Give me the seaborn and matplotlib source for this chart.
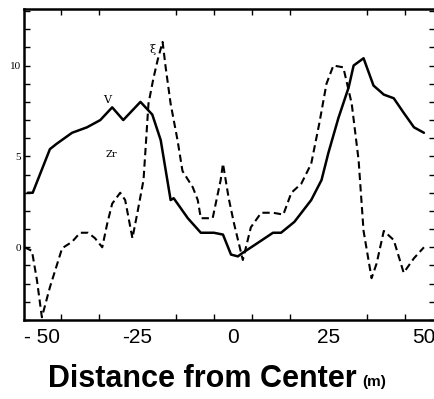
import numpy as np
import pandas as pd
import matplotlib
matplotlib.use('Agg')
import matplotlib.pyplot as plt
import seaborn as sns

# solid curve (Zr)
zr_x = [-53.7, -52.4, -47.9, -46.1, -42.1, -38.2, -34.7, -31.6, -28.7, -24.2,
        -21.1, -18.9, -16.3, -15.5, -11.8, -8.4, -5.0, -2.6, -0.5, 1.3,
        2.6, 5.5, 10.5, 12.6, 16.1, 20.5, 23.2, 25.0, 27.6, 30.3,
        31.6, 34.2, 36.8, 39.5, 42.1, 44.7, 47.4, 50.0]
zr_y = [3.0, 3.0, 5.4, 5.7, 6.3, 6.6, 7.0, 7.7, 7.0, 8.0,
        7.3, 5.9, 2.6, 2.7, 1.6, 0.8, 0.8, 0.7, -0.4, -0.5,
        -0.3, 0.1, 0.8, 0.8, 1.4, 2.6, 3.7, 5.2, 7.1, 8.8,
        10.0, 10.4, 8.9, 8.4, 8.2, 7.4, 6.6, 6.3]

# dashed curve (xi)
xi_x = [-54.5, -52.6, -51.3, -50.0, -47.9, -44.7, -42.1, -40.0, -37.9, -36.1,
        -34.2, -32.9, -31.6, -29.5, -28.2, -26.3, -25.0, -23.4, -22.9, -22.1,
        -20.8, -19.7, -18.4, -17.6, -16.3, -14.5, -13.2, -10.5, -9.2, -8.4,
        -5.3, -3.2, -2.6, -1.1, 0.3, 2.6, 4.7, 7.4, 10.5, 13.2,
        15.3, 17.9, 20.5, 22.6, 24.5, 26.3, 28.9, 31.1, 32.9, 34.2,
        36.3, 37.6, 39.5, 42.1, 44.7, 47.4, 50.0]
xi_y = [0.0, -0.2, -1.8, -3.85, -2.2, -0.05, 0.3, 0.8, 0.8, 0.5,
        0.0, 1.3, 2.4, 3.0, 2.6, 0.5, 1.9, 3.7, 5.3, 7.9,
        9.3, 10.3, 11.3, 9.9, 7.9, 5.9, 4.2, 3.3, 2.6, 1.6,
        1.6, 3.7, 4.6, 2.7, 1.3, -0.7, 1.1, 1.9, 1.9, 1.8,
        3.0, 3.5, 4.6, 6.8, 9.0, 10.0, 9.9, 7.9, 4.8, 0.9,
        -1.7, -0.9, 0.9, 0.4, -1.4, -0.6, 0.0]

x_ticks = [-50, -25, 0, 25, 50]
x_labels = ['- 50', '-25', '0', '25', '50']
y_ticks = [0, 5, 10]
y_labels = ['0', '5', '10']

sns.set_style('white')
plt.rcParams['text.color'] = 'black'
plt.rcParams['xtick.color'] = 'black'
plt.rcParams['ytick.color'] = 'black'

fig = plt.figure(figsize=(4.35, 3.99), dpi=100)
ax = fig.add_axes([0.055, 0.198, 0.945, 0.779])

sns.lineplot(x=zr_x, y=zr_y, ax=ax, color='black', linewidth=1.8,
             estimator=None, sort=False)
sns.lineplot(x=xi_x, y=xi_y, ax=ax, color='black', linewidth=1.5,
             estimator=None, sort=False, linestyle=(0, (3.5, 2)))

ax.set_xlim(-54.7, 52.9)
ax.set_ylim(-4.0, 13.1)

ax.text(-32.9, 8.1, 'V', fontsize=8, ha='center', va='center', family='DejaVu Serif')
ax.text(-21.0, 10.9, 'ξ', fontsize=8, ha='center', va='center', family='DejaVu Serif')
ax.text(-31.8, 5.1, 'Zr', fontsize=7, ha='center', va='center', family='DejaVu Serif')

# ticks
ax.set_xticks(x_ticks)
ax.set_xticklabels(x_labels, fontsize=15, family='Liberation Sans')
ax.set_xticks(np.arange(-45, 50, 10), minor=True)
ax.set_yticks(y_ticks)
ax.set_yticklabels(y_labels, fontsize=8, family='Liberation Serif')
ax.set_yticks(np.arange(-4, 14, 1), minor=True)
ax.tick_params(axis='x', which='major', length=0, pad=6, labelcolor='black')
ax.tick_params(axis='x', which='minor', direction='in', length=4, width=1,
               top=True, bottom=True)
ax.tick_params(axis='y', which='both', direction='in', length=4, width=1,
               left=True, right=True, pad=2, labelcolor='black')

for s in ['left', 'top', 'bottom']:
    ax.spines[s].set_color('black')
    ax.spines[s].set_linewidth(1.8)
ax.spines['right'].set_visible(False)

fig.text(0.465, 0.03, 'Distance from Center', fontsize=22, fontweight='bold',
         family='Liberation Sans', ha='center', va='baseline', color='black')
fig.text(0.832, 0.033, '(m)', fontsize=11, fontweight='bold',
         family='Liberation Sans', ha='left', va='baseline', color='black')

fig.savefig('out.png', dpi=100)
